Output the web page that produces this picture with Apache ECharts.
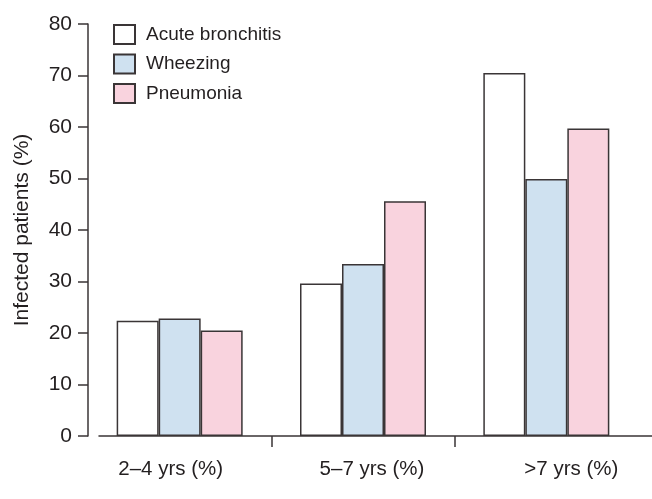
<!DOCTYPE html>
<html><head><meta charset="utf-8">
<script src="https://cdn.jsdelivr.net/npm/echarts@6/dist/echarts.min.js"></script>
<style>html,body{margin:0;padding:0;background:#fff}#c{width:652px;height:499px}</style>
</head><body><div id="c"></div>
<script>
const categories = ['2–4 yrs (%)', '5–7 yrs (%)', '>7 yrs (%)'];
const acuteBronchitis = [22.4, 29.6, 70.5];
const wheezing = [22.8, 33.4, 49.9];
const pneumonia = [20.5, 45.6, 59.7];
const yTicks = [0, 80, 10];

const FONT = 'Liberation Sans, Arial, sans-serif';
const TXT = '#231f20';
const EDGE = '#3a3536';
// label offsets (style only): the reference labels are not centred on the groups
const labelPads = [[0, 18, 0, 0], [0, 0, 0, 18], [0, 0, 0, 50]];
const chart = echarts.init(document.getElementById('c'), null, {renderer: 'canvas'});
function bar(name, data, color) {
  return {
    name, type: 'bar', data, xAxisIndex: 0, yAxisIndex: 0,
    barWidth: 42, barGap: '0%',
    itemStyle: {color, borderColor: EDGE, borderWidth: 1.5},
    emphasis: {disabled: true}
  };
}
chart.setOption({
  animation: false,
  textStyle: {fontFamily: FONT, color: TXT},
  legend: {
    left: 113, top: 24, padding: 0, orient: 'vertical', itemWidth: 21, itemHeight: 19, itemGap: 8.5,
    icon: 'rect',
    textStyle: {fontSize: 19, color: TXT, fontFamily: FONT, padding: [0, 0, 0, 6]},
    data: ['Acute bronchitis', 'Wheezing', 'Pneumonia']
  },
  grid: [
    {left: 88, right: 14, top: 24, bottom: 63},
    {left: 99, right: 0, top: 24, bottom: 63}
  ],
  xAxis: [
    {
      type: 'category', gridIndex: 0,
      data: categories.map((c, i) => ({value: c, textStyle: {padding: labelPads[i]}})),
      axisLine: {show: false}, axisTick: {show: false},
      axisLabel: {fontSize: 20.5, color: TXT, margin: 23, fontFamily: FONT}
    },
    {
      type: 'value', gridIndex: 1, min: 0.06, max: 3.076,
      axisLine: {show: true, lineStyle: {color: EDGE, width: 1.5}},
      axisTick: {show: true, length: 11, customValues: [1, 2], lineStyle: {color: EDGE, width: 1.5}},
      axisLabel: {show: false}, splitLine: {show: false}
    }
  ],
  yAxis: [
    {
      type: 'value', gridIndex: 0, min: yTicks[0], max: yTicks[1], interval: yTicks[2],
      name: 'Infected patients (%)', nameLocation: 'middle', nameGap: 55, nameRotate: 90,
      nameTextStyle: {fontSize: 21, color: TXT, fontFamily: FONT},
      axisLine: {show: true, lineStyle: {color: EDGE, width: 1.5}},
      axisTick: {show: true, length: 10, lineStyle: {color: EDGE, width: 1.5}},
      axisLabel: {fontSize: 21, color: TXT, margin: 16, fontFamily: FONT},
      splitLine: {show: false}
    },
    {type: 'value', gridIndex: 1, show: false, min: 0, max: 80}
  ],
  series: [
    bar('Acute bronchitis', acuteBronchitis, '#ffffff'),
    bar('Wheezing', wheezing, '#cfe1f0'),
    bar('Pneumonia', pneumonia, '#f9d3de')
  ]
});
</script></body></html>
